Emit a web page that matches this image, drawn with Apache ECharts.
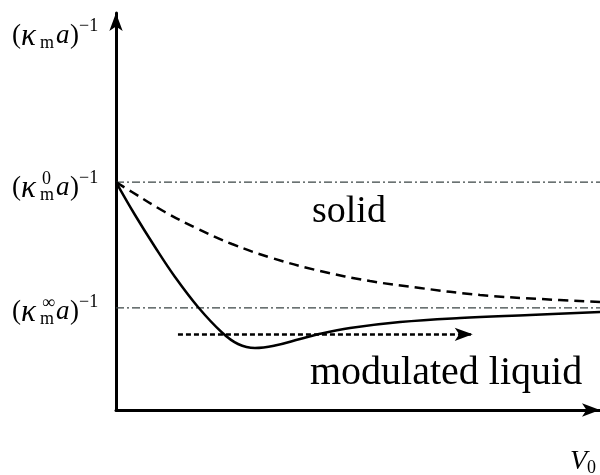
<!DOCTYPE html>
<html>
<head>
<meta charset="utf-8">
<script src="https://cdn.jsdelivr.net/npm/echarts@6/dist/echarts.min.js"></script>
<style>
  html, body { margin: 0; padding: 0; background: #fff; }
  #chart { width: 600px; height: 475px; }
</style>
</head>
<body>
<div id="chart"></div>
<script>
// Inverse modulation length (κ_m a)^-1 against the potential strength V0.

// Reference levels on the vertical axis
const kappaZeroLevel = 6.16;   // (κ⁰ₘ a)⁻¹
const kappaInfLevel = 2.76;    // (κ∞ₘ a)⁻¹
const yAxisTop = 10.73;
const xAxisEnd = 10;

// Solid curve: dips below the asymptote, then recovers towards it
const liquidCurveX = [0, 0.393, 0.806, 1.219, 1.694, 2.190, 2.521, 2.872, 3.285, 3.802, 4.153, 4.835, 5.868, 7.107, 8.554, 10];
const liquidCurveY = [6.16, 5.270, 4.405, 3.595, 2.784, 2.095, 1.784, 1.676, 1.743, 1.919, 2.041, 2.216, 2.378, 2.486, 2.568, 2.649];

// Dashed curve: monotone decay from the V0 = 0 value towards the asymptote
const solidCurveX = [0, 0.331, 1.012, 1.694, 2.397, 3.223, 4.215, 5.248, 6.281, 7.521, 8.760, 10];
const solidCurveY = [6.16, 5.892, 5.351, 4.892, 4.486, 4.108, 3.757, 3.486, 3.297, 3.108, 3.0, 2.919];

// Dotted arrow through the modulated-liquid region
const arrowStart = [1.28, 2.046];
const arrowEnd = [7.37, 2.046];

const zip = (xs, ys) => xs.map((x, i) => [x, ys[i]]);

const SERIF = '"Liberation Serif", "Times New Roman", serif';
const chart = echarts.init(document.getElementById('chart'), null, { renderer: 'canvas' });

const dashDot = { color: '#3a4444', width: 1.3, type: [8, 3, 2, 3] };

chart.setOption({
  animation: false,
  backgroundColor: '#fff',
  grid: { left: 116, right: 0, top: 13, bottom: 65 },
  xAxis: {
    type: 'value', min: 0, max: xAxisEnd,
    axisLine: { lineStyle: { color: '#000', width: 3 }, symbol: ['none', 'arrow'], symbolSize: [10, 18] },
    axisTick: { show: false }, axisLabel: { show: false }, splitLine: { show: false }
  },
  yAxis: {
    type: 'value', min: 0, max: yAxisTop,
    axisLine: { lineStyle: { color: '#000', width: 3 }, symbol: ['none', 'arrow'], symbolSize: [10, 18] },
    axisTick: { show: false }, axisLabel: { show: false }, splitLine: { show: false }
  },
  series: [
    {
      type: 'line', data: [[0, kappaZeroLevel], [xAxisEnd, kappaZeroLevel]],
      symbol: 'none', lineStyle: dashDot, z: 1
    },
    {
      type: 'line', data: [[0, kappaInfLevel], [xAxisEnd, kappaInfLevel]],
      symbol: 'none', lineStyle: dashDot, z: 1
    },
    {
      type: 'line', data: zip(solidCurveX, solidCurveY), smooth: 0.4,
      symbol: 'none', lineStyle: { color: '#000', width: 2.5, type: [10, 6] }, z: 2
    },
    {
      type: 'line', data: zip(liquidCurveX, liquidCurveY), smooth: 0.4,
      symbol: 'none', lineStyle: { color: '#000', width: 2.5 }, z: 3,
      markLine: {
        silent: true,
        symbol: ['none', 'arrow'],
        symbolSize: 16,
        label: { show: false },
        lineStyle: { color: '#000', width: 2.5, type: [5, 3] },
        data: [[
          { coord: arrowStart, symbol: 'none' },
          { coord: arrowEnd, symbol: 'arrow', symbolSize: [10, 18] }
        ]]
      }
    }
  ]
});

// Math-style labels built from pieces (main glyphs, sub- and superscripts)
function piece(x, y, text, size, italic) {
  return {
    type: 'text', x: x, y: y, silent: true,
    style: {
      text: text, fill: '#000', align: 'left', verticalAlign: 'middle',
      font: (italic ? 'italic ' : '') + size + 'px ' + SERIF
    }
  };
}

function kappaLabel(x0, cy, supText) {
  const parts = [
    piece(x0, cy, '(', 27, false),
    piece(x0 + 9, cy + 1, 'κ', 31, true),
    piece(x0 + 28, cy + 7, 'm', 18, false),
    piece(x0 + 44, cy, 'a', 27, true),
    piece(x0 + 58, cy, ')', 27, false),
    piece(x0 + 67, cy - 10, '−1', 18, false)
  ];
  if (supText) parts.push(piece(x0 + 30, cy - 9, supText, 18, false));
  return parts;
}

const yTopPx = chart.convertToPixel({ yAxisIndex: 0 }, yAxisTop);
const yZeroPx = chart.convertToPixel({ yAxisIndex: 0 }, kappaZeroLevel);
const yInfPx = chart.convertToPixel({ yAxisIndex: 0 }, kappaInfLevel);
const xEndPx = chart.convertToPixel({ xAxisIndex: 0 }, xAxisEnd);
const yBasePx = chart.convertToPixel({ yAxisIndex: 0 }, 0);

const elements = []
  .concat(kappaLabel(12, yTopPx + 23, null))
  .concat(kappaLabel(12, yZeroPx + 6, '0'))
  .concat(kappaLabel(12, yInfPx + 4, '∞'))
  .concat([
    piece(xEndPx - 30, yBasePx + 52, 'V', 28, true),
    piece(xEndPx - 13, yBasePx + 58, '0', 18, false),
    piece(312, 212, 'solid', 38, false),
    piece(310, 373, 'modulated liquid', 40, false)
  ]);

chart.setOption({ graphic: { elements: elements } });
</script>
</body>
</html>
